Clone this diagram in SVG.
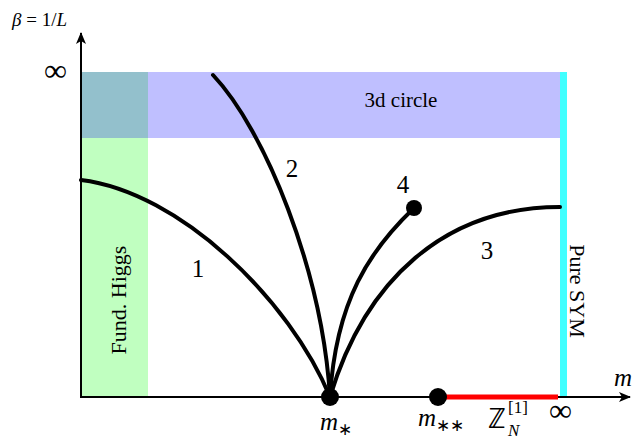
<svg xmlns="http://www.w3.org/2000/svg" width="639" height="442" viewBox="0 0 639 442">
<style>
text{font-family:"Liberation Serif","Times New Roman",serif;fill:#000}
.lbl{font-size:25px}
.it{font-style:italic}
.curve{fill:none;stroke:#000;stroke-width:4;stroke-linecap:round}
.axis{fill:none;stroke:#000;stroke-width:2}
</style>
<defs>
<marker id="arr" viewBox="0 0 12 10" refX="11" refY="5" markerWidth="12" markerHeight="10" markerUnits="userSpaceOnUse" orient="auto">
<path d="M0,0 L12,5 L0,10 L3,5 Z" fill="#000"/>
</marker>
</defs>
<g id="regions">
<rect id="higgs-region" x="81" y="72" width="67" height="325" fill="#c0ffc0"/>
<rect id="circle-region" x="148" y="72" width="414" height="66" fill="#bfbfff"/>
<rect id="overlap-region" x="81" y="72" width="67" height="66" fill="#93c0cc"/>
<rect id="sym-bar" x="560" y="72" width="7" height="325" fill="#40ffff"/>
</g>
<g id="connectors">
<line class="axis" x1="81" y1="398" x2="81" y2="33" marker-end="url(#arr)"/>
<line class="axis" x1="80" y1="397" x2="630" y2="397" marker-end="url(#arr)"/>
<line x1="440" y1="397" x2="558" y2="397" stroke="#ff0000" stroke-width="5"/>
<path class="curve" d="M81,180 C180,192 290,300 330,397"/>
<path class="curve" d="M213,75 C265,130 322,270 330,397"/>
<path class="curve" d="M330,397 C365,280 445,207 560,207"/>
<path class="curve" d="M330,397 C336,300 370,250 414,208"/>
</g>
<g id="points">
<circle cx="330" cy="397" r="9"/>
<circle cx="438" cy="397" r="9"/>
<circle cx="414" cy="208" r="8"/>
</g>
<g id="labels">
<text x="12" y="26" font-size="19"><tspan font-style="italic">β</tspan> = 1/<tspan font-style="italic">L</tspan></text>
<text x="44" y="81" font-size="32">∞</text>
<text x="549" y="421" font-size="32">∞</text>
<text x="614" y="386" class="it" font-size="25">m</text>
<text x="198" y="277" class="lbl" text-anchor="middle">1</text>
<text x="292" y="177" class="lbl" text-anchor="middle">2</text>
<text x="487" y="259" class="lbl" text-anchor="middle">3</text>
<text x="403" y="193" class="lbl" text-anchor="middle">4</text>
<text x="401" y="107" font-size="21" text-anchor="middle">3d circle</text>
<text transform="translate(126,300) rotate(-90)" font-size="22" text-anchor="middle">Fund. Higgs</text>
<text transform="translate(570,291) rotate(90)" font-size="22" text-anchor="middle">Pure SYM</text>
<text x="320" y="430" class="it" font-size="25">m<tspan font-style="normal" font-size="17" dy="5">∗</tspan></text>
<text x="418" y="426" class="it" font-size="25">m<tspan font-style="normal" font-size="17" dy="5">∗∗</tspan></text>
<text x="488" y="428" font-size="28">ℤ</text>
<text x="508" y="413" font-size="17">[1]</text>
<text x="508" y="436" class="it" font-size="17">N</text>
</g>
</svg>
